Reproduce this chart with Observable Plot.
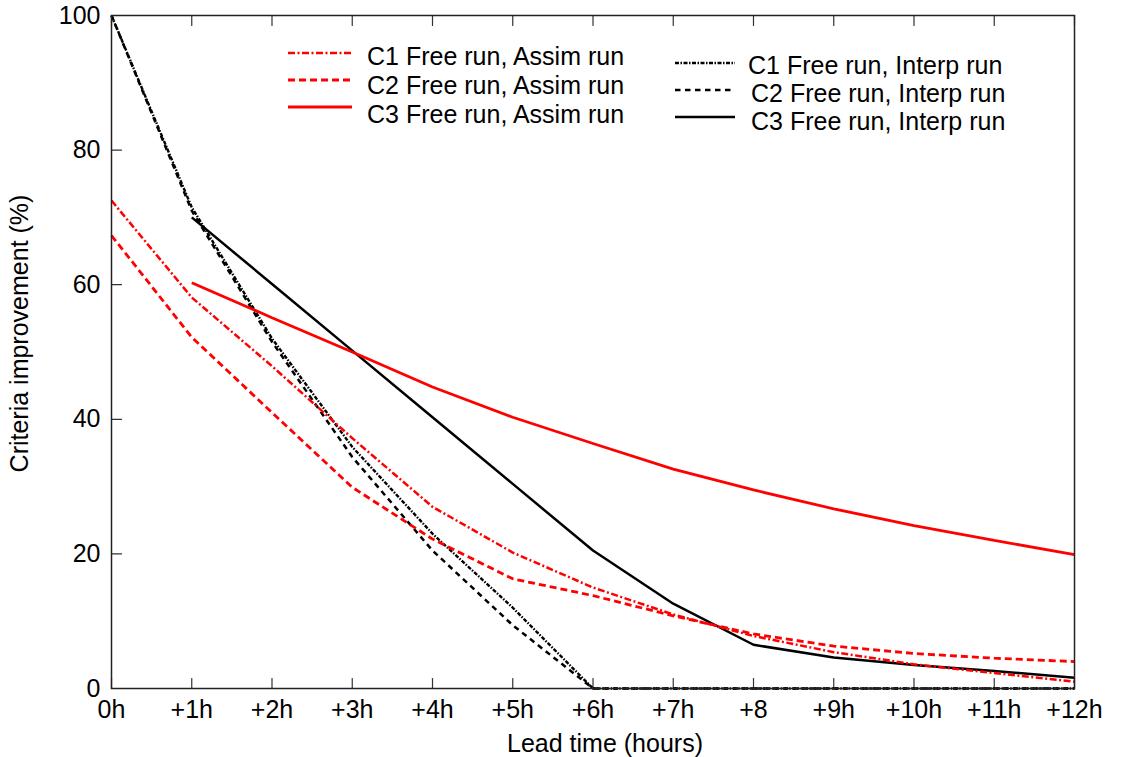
<!DOCTYPE html>
<html><head><meta charset="utf-8">
<script src="https://cdn.jsdelivr.net/npm/d3@7"></script>
<script src="https://cdn.jsdelivr.net/npm/@observablehq/plot@0.6"></script>
<style>
body{margin:0;background:#fff;}
#wrap{position:relative;width:1121px;height:757px;font-family:"Liberation Sans",Arial,sans-serif;}
#legend{position:absolute;left:0;top:0;pointer-events:none;}
</style></head><body><div id="wrap"></div>
<script>
// ---- data ----
const hours = [0,1,2,3,4,5,6,7,8,9,10,11,12];
const xTickLabels = ["0h","+1h","+2h","+3h","+4h","+5h","+6h","+7h","+8","+9h","+10h","+11h","+12h"];
const yTicks = [0,20,40,60,80,100];
const xTitle = "Lead time (hours)";
const yTitle = "Criteria improvement (%)";

const c1Assim  = [72.5, 58.1, 47.9, 37.2, 27.0, 20.2, 15.0, 11.0, 7.8, 5.4, 3.6, 2.3, 1.0];
const c2Assim  = [67.3, 52.2, 41.0, 29.9, 22.2, 16.3, 13.8, 10.8, 8.1, 6.3, 5.2, 4.5, 4.0];
const c3Assim  = [null, 60.3, 55.1, 50.0, 44.8, 40.3, 36.4, 32.6, 29.5, 26.7, 24.2, 22.0, 19.9];
const c1Interp = [100, 71.5, 52.0, 35.9, 23.0, 12.0, 0, 0, 0, 0, 0, 0, 0];
const c2Interp = [100, 71.0, 51.5, 34.4, 20.5, 9.4, 0, 0, 0, 0, 0, 0, 0];
const c3Interp = [null, 70.0, 60.1, 50.2, 40.3, 30.4, 20.5, 12.6, 6.5, 4.6, 3.5, 2.6, 1.6];

const seriesNames = ["C1 Free run, Assim run","C2 Free run, Assim run","C3 Free run, Assim run",
                     "C1 Free run, Interp run","C2 Free run, Interp run","C3 Free run, Interp run"];
const seriesValues = [c1Assim, c2Assim, c3Assim, c1Interp, c2Interp, c3Interp];
const seriesColors = ["#ff0000","#ff0000","#ff0000","#000000","#000000","#000000"];
const seriesDash   = ["7,2.5,2,2.5","7,4",null,"4,1.5,1.5,1.5","5.5,4.5",null];
const seriesWidth  = [2.5,2.8,2.8,2.4,2.5,2.5];

// ---- chart ----
const FONT = "'Liberation Sans', Arial, Helvetica, sans-serif";
const tickShape = {draw(ctx, l){ ctx.moveTo(0,0); ctx.lineTo(0,-l); }};
const drawOrder = [3,4,5,0,1,2];

const chart = Plot.plot({
  width: 1121, height: 757,
  marginLeft: 111, marginRight: 47, marginTop: 15, marginBottom: 69,
  x: {domain: [0, 12]},
  y: {domain: [0, 100]},
  style: {fontFamily: FONT, fontSize: "25px", color: "#000", background: "#fff"},
  marks: [
    Plot.axisX(hours, {tickSize: 0, tickPadding: 12, tickFormat: d => xTickLabels[d], label: null, fontSize: 25}),
    Plot.axisY(yTicks, {tickSize: 0, tickPadding: 11, label: null, fontSize: 25}),
    Plot.vector(hours, {x: d => d, frameAnchor: "bottom", length: 10, rotate: 0, anchor: "start", shape: tickShape, stroke: "#333", strokeWidth: 1.2}),
    Plot.vector(hours, {x: d => d, frameAnchor: "top", length: 10, rotate: 180, anchor: "start", shape: tickShape, stroke: "#333", strokeWidth: 1.2}),
    Plot.vector(yTicks, {y: d => d, frameAnchor: "left", length: 10, rotate: 90, anchor: "start", shape: tickShape, stroke: "#333", strokeWidth: 1.2}),
    ...drawOrder.map(k => Plot.line(hours, {
      x: d => d, y: (d, i) => seriesValues[k][i],
      stroke: seriesColors[k], strokeWidth: seriesWidth[k],
      strokeDasharray: seriesDash[k] || undefined, strokeLinejoin: "miter", strokeLinecap: "butt"
    })),
    Plot.frame({stroke: "#222", strokeWidth: 1.5}),
    Plot.text([xTitle], {text: d => d, frameAnchor: "bottom", dx: 12, dy: 55.5, lineAnchor: "middle", textAnchor: "middle", fontSize: 25}),
    Plot.text([yTitle], {text: d => d, frameAnchor: "left", rotate: -90, dx: -92, dy: -18.5, lineAnchor: "middle", textAnchor: "middle", fontSize: 25})
  ]
});
const wrap = document.getElementById("wrap");
wrap.appendChild(chart);

// ---- legend (overlay) ----
const leg = d3.select(wrap).append("svg").attr("id","legend")
  .attr("width",1121).attr("height",757)
  .style("font-family", FONT).style("font-size","25px");
const cols = [
  {idx:[0,1,2], x1:288, x2:352, tx:367, sy0:53, sStep:27, ty0:56, tStep:29},
  {idx:[3,4,5], x1:675, x2:735, tx:748, sy0:63, sStep:27, ty0:65, tStep:28}
];
cols.forEach(c => {
  c.idx.forEach((k, j) => {
    const sy = c.sy0 + j*c.sStep, ty = c.ty0 + j*c.tStep;
    leg.append("line").attr("x1",c.x1).attr("x2",c.x2).attr("y1",sy).attr("y2",sy)
      .attr("stroke",seriesColors[k]).attr("stroke-width",seriesWidth[k])
      .attr("stroke-dasharray",seriesDash[k]);
    leg.append("text").attr("x", c.tx + (k>3?3:0)).attr("y",ty).attr("dy","0.35em")
      .attr("fill","#000").text(seriesNames[k]);
  });
});
</script></body></html>
